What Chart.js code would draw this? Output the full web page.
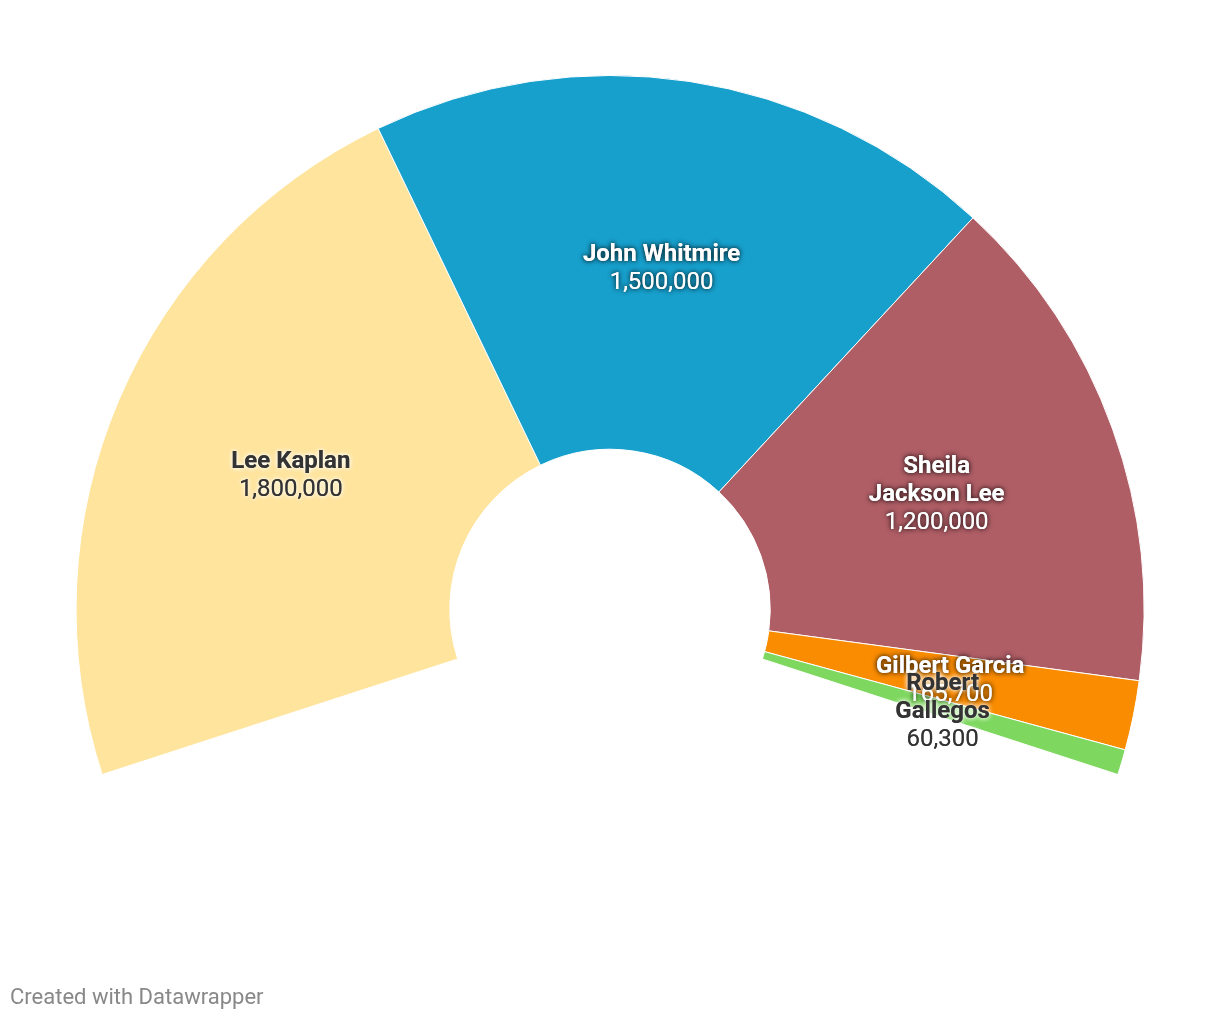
<!DOCTYPE html>
<html>
<head>
<meta charset="utf-8">
<script src="https://cdn.jsdelivr.net/npm/chart.js@4.4.1/dist/chart.umd.min.js"></script>
<style>
  html, body { margin: 0; padding: 0; background: #fff; }
  #wrap { position: relative; width: 1220px; height: 1020px; }
  #footer {
    position: absolute; left: 10px; top: 984px; line-height: 26px;
    font-family: Roboto, sans-serif; font-size: 22px; color: #888;
  }
</style>
</head>
<body>
<div id="wrap">
  <canvas id="chart" width="1220" height="1020"></canvas>
  <div id="footer">Created with Datawrapper</div>
</div>
<script>
// データ
const candidates = ['Lee Kaplan', 'John Whitmire', 'Sheila\nJackson Lee', 'Gilbert Garcia', 'Robert\nGallegos'];
const votes = [1800000, 1500000, 1200000, 165700, 60300];
const sliceColors = ['#fee49c', '#18a0cd', '#b05e66', '#f98c00', '#7ed85f'];
const darkText = [true, false, false, false, true];

// 扇形の中央にラベルを描くプラグイン
const sliceLabels = {
    id: 'sliceLabels',
    afterDatasetsDraw(chart) {
        const ctx = chart.ctx;
        const meta = chart.getDatasetMeta(0);
        meta.data.forEach((arc, i) => {
            const pos = arc.tooltipPosition();
            const lines = candidates[i].split('\n');
            const all = lines.map(t => ({ t, bold: true })).concat([{ t: votes[i].toLocaleString('en-US'), bold: false }]);
            const lh = 28;
            const y0 = pos.y + 3 - (all.length - 1) * lh / 2;
            ctx.save();
            ctx.textAlign = 'center';
            ctx.textBaseline = 'middle';
            ctx.fillStyle = darkText[i] ? '#333333' : '#ffffff';
            ctx.shadowColor = darkText[i] ? 'rgba(255,255,255,0.9)' : 'rgba(0,0,0,0.6)';
            ctx.shadowBlur = 5;
            all.forEach((l, k) => {
                ctx.font = (l.bold ? 'bold ' : '') + '24px Roboto, sans-serif';
                ctx.fillText(l.t, pos.x, y0 + k * lh);
                ctx.fillText(l.t, pos.x, y0 + k * lh);
            });
            ctx.restore();
        });
    }
};

new Chart(document.getElementById('chart'), {
    type: 'doughnut',
    data: {
        labels: candidates,
        datasets: [{
            data: votes,
            backgroundColor: sliceColors,
            borderColor: '#ffffff',
            borderWidth: 1
        }]
    },
    options: {
        responsive: false,
        animation: false,
        rotation: -108,
        circumference: 216,
        cutout: '30%',
        layout: { padding: { top: 75, left: 75, right: 75, bottom: 245 } },
        plugins: {
            legend: { display: false },
            tooltip: { enabled: false }
        }
    },
    plugins: [sliceLabels]
});
</script>
</body>
</html>
